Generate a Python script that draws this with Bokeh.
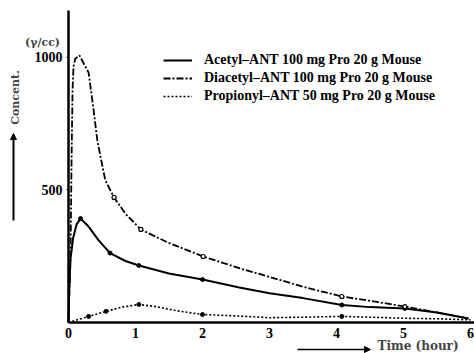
from bokeh.plotting import figure
from bokeh.models import Range1d, FixedTicker, Legend, LegendItem, Label, Arrow, NormalHead
from bokeh.embed import file_html
from bokeh.resources import INLINE

# Acetyl-ANT (solid)
acetyl_t = [0, 0.01, 0.03, 0.07, 0.12, 0.18, 0.3, 0.45, 0.62, 0.85, 1.05, 1.5, 2.0, 2.55, 3.0, 3.5, 4.08, 4.5, 5.02, 5.5, 5.97]
acetyl_v = [0, 120, 240, 320, 370, 392, 362, 310, 262, 232, 215, 185, 162, 132, 110, 92, 66, 58, 53, 38, 15]
acetyl_mt = [0.18, 0.62, 1.05, 2.0, 4.08, 5.02]
acetyl_mv = [392, 262, 215, 162, 66, 53]

# Diacetyl-ANT (dash-dot)
diacetyl_t = [0, 0.03, 0.045, 0.06, 0.075, 0.1, 0.164, 0.25, 0.3, 0.37, 0.43, 0.51, 0.55, 0.68, 0.85, 1.08, 1.48, 2.01, 2.56, 3.0, 3.5, 4.08, 4.6, 5.02, 5.5, 5.97]
diacetyl_v = [0, 250, 600, 875, 966, 995, 1008, 966, 943, 811, 687, 585, 536, 472, 410, 351, 302, 249, 204, 172, 135, 98, 78, 60, 38, 15]
diacetyl_mt = [0.68, 1.08, 2.01, 4.08, 5.02]
diacetyl_mv = [472, 351, 249, 98, 60]

# Propionyl-ANT (dotted)
propionyl_t = [0, 0.3, 0.56, 0.8, 1.05, 1.3, 1.6, 2.0, 2.5, 3.0, 3.5, 4.08, 4.5, 5.0, 5.5, 6.0]
propionyl_v = [0, 23, 42, 58, 68, 60, 45, 30, 25, 18, 20, 23, 20, 16, 14, 10]
propionyl_mt = [0.3, 0.56, 1.05, 2.0, 4.08]
propionyl_mv = [23, 42, 68, 30, 23]

x_ticks = [0, 1, 2, 3, 4, 5, 6]
y_ticks = [500, 1000]

labels = ["Acetyl\u2013ANT 100 mg Pro 20 g Mouse",
          "Diacetyl\u2013ANT 100 mg Pro 20 g Mouse",
          "Propionyl\u2013ANT 50 mg Pro 20 g Mouse"]

SERIF = "DejaVu Serif"
LSERIF = "Liberation Serif"
NUMF = "Liberation Sans Narrow"

p = figure(width=474, height=353, output_backend="svg", toolbar_location=None,
           x_range=Range1d(-1.015, 6.06), y_range=Range1d(-117, 1215),
           min_border_left=0, min_border_right=0, min_border_top=0, min_border_bottom=0)
p.outline_line_color = None
p.xgrid.visible = False
p.ygrid.visible = False
p.background_fill_color = "white"
p.border_fill_color = "white"

for ax in (p.xaxis[0], p.yaxis[0]):
    ax.axis_line_color = "black"
    ax.axis_line_width = 2.5
    ax.minor_tick_line_color = None
    ax.major_label_text_font = NUMF
    ax.major_label_text_font_style = "bold"
    ax.major_label_text_font_size = "14px"
    ax.major_label_text_color = "black"
    ax.fixed_location = 0

p.xaxis.ticker = FixedTicker(ticks=x_ticks)
p.xaxis.bounds = (0, 6.06)
p.xaxis.major_tick_line_color = None
p.xaxis.major_label_standoff = 0
p.yaxis.ticker = FixedTicker(ticks=y_ticks)
p.yaxis.bounds = (0, 1177)
p.yaxis.major_tick_out = 2
p.yaxis.major_tick_in = 0
p.yaxis.major_label_standoff = 4

r1 = p.line(acetyl_t, acetyl_v, line_color="black", line_width=2)
p.scatter(acetyl_mt, acetyl_mv, size=4, color="black")
r2 = p.line(diacetyl_t, diacetyl_v, line_color="black", line_width=1.8, line_dash="7 2 2 2")
p.scatter(diacetyl_mt, diacetyl_mv, size=4, fill_color="white", line_color="black", line_width=1.2)
r3 = p.line(propionyl_t, propionyl_v, line_color="black", line_width=1.6, line_dash="2 2")
p.scatter(propionyl_mt, propionyl_mv, size=4, color="black")

legend = Legend(items=[LegendItem(label=labels[0], renderers=[r1]),
                       LegendItem(label=labels[1], renderers=[r2]),
                       LegendItem(label=labels[2], renderers=[r3])],
                location=(163, 248))
legend.background_fill_alpha = 0
legend.border_line_color = None
legend.padding = 0
legend.margin = 0
legend.spacing = 0
legend.glyph_width = 29
legend.glyph_height = 18
legend.label_height = 18
legend.label_standoff = 12
legend.label_text_font = LSERIF
legend.label_text_font_style = "bold"
legend.label_text_font_size = "14px"
legend.label_text_color = "black"
p.add_layout(legend, "center")

p.add_layout(Label(x=-0.388, y=1057, text="(\u03b3/cc)",
                   text_font=SERIF, text_font_style="bold", text_font_size="11px",
                   text_align="center", text_baseline="middle"))
p.add_layout(Label(x=-0.791, y=849, text="Concent.",
                   angle=1.5708, text_font=SERIF, text_font_style="bold", text_font_size="11px",
                   text_align="center", text_baseline="middle"))
p.add_layout(Arrow(x_start=-0.821, y_start=385, x_end=-0.821, y_end=713, line_width=2,
                   end=NormalHead(size=6, fill_color="black", line_color="black")))
p.add_layout(Arrow(x_start=3.418, y_start=-102, x_end=4.507, y_end=-102, line_width=1.5,
                   end=NormalHead(size=6, fill_color="black", line_color="black")))
p.add_layout(Label(x=4.612, y=-87, text="Time (hour)",
                   text_font=SERIF, text_font_style="bold", text_font_size="12px",
                   text_align="left", text_baseline="middle"))

open("out.html", "w").write(file_html(p, INLINE))
